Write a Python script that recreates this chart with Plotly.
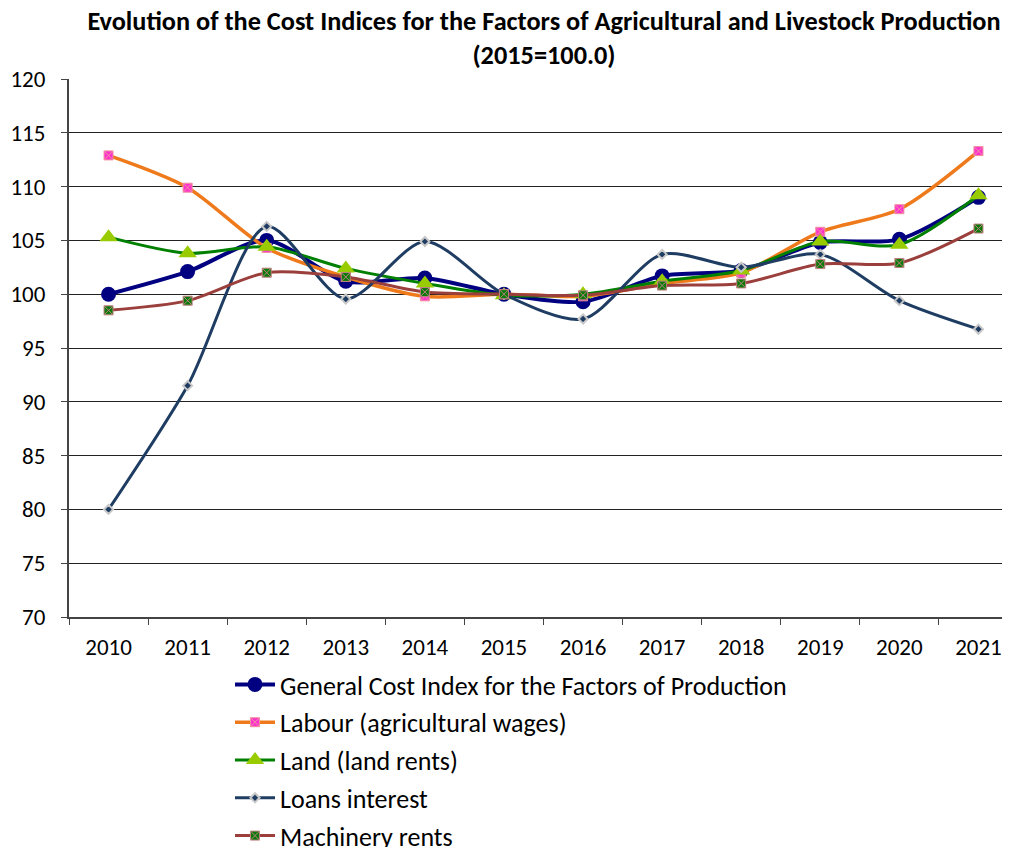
import plotly.graph_objects as go

years = ["2010", "2011", "2012", "2013", "2014", "2015", "2016", "2017", "2018", "2019", "2020", "2021"]
general = [100.0, 102.1, 105.0, 101.2, 101.5, 100.0, 99.3, 101.7, 102.2, 104.8, 105.1, 109.0]
labour = [112.9, 109.9, 104.3, 101.6, 99.8, 100.0, 99.8, 101.0, 102.0, 105.8, 107.9, 113.3]
land = [105.3, 103.8, 104.4, 102.4, 101.0, 99.9, 100.0, 101.2, 102.2, 104.9, 104.6, 109.2]
loans = [80.0, 91.5, 106.3, 99.55, 104.9, 100.0, 97.7, 103.7, 102.5, 103.7, 99.4, 96.75]
machinery = [98.5, 99.4, 102.0, 101.6, 100.2, 100.0, 99.9, 100.8, 101.0, 102.8, 102.9, 106.1]

names = [
    "General Cost Index for the Factors of Production",
    "Labour (agricultural wages)",
    "Land (land rents)",
    "Loans interest",
    "Machinery rents",
]

FONT = "Carlito, Lato, sans-serif"
W, H = 1010, 880

fig = go.Figure()
fig.add_trace(go.Scatter(
    x=years, y=general, name=names[0], mode="lines+markers",
    line=dict(color="#000080", width=4, shape="spline", smoothing=0.8),
    marker=dict(symbol="circle", size=15, color="#000080", line=dict(color="#000080", width=0)),
    legendgroup="a"))
fig.add_trace(go.Scatter(
    x=years, y=labour, name=names[1], mode="lines+markers",
    line=dict(color="#EE7A1C", width=3.5, shape="spline", smoothing=0.8),
    marker=dict(symbol="square-x", size=9, color="#FF33CC", line=dict(color="#F090A0", width=1)),
    legendgroup="b"))
fig.add_trace(go.Scatter(
    x=years, y=land, name=names[2], mode="lines+markers",
    line=dict(color="#008000", width=3, shape="spline", smoothing=0.8),
    marker=dict(symbol="triangle-up", size=16, color="#99CC00", line=dict(width=0)),
    legendgroup="c"))
fig.add_trace(go.Scatter(
    x=years, y=loans, name=names[3], mode="lines+markers",
    line=dict(color="#1F3D63", width=3, shape="spline", smoothing=0.8),
    marker=dict(symbol="diamond", size=7, color="#1F3D63", line=dict(color="#C8C8C8", width=2)),
    legendgroup="d"))
fig.add_trace(go.Scatter(
    x=years, y=machinery, name=names[4], mode="lines+markers",
    line=dict(color="#9B3F3C", width=3, shape="spline", smoothing=0.8),
    marker=dict(symbol="square-x", size=9, color="#0A7A0A", line=dict(color="#C08080", width=1)),
    legendgroup="e"))

fig.update_layout(
    width=W, height=H,
    paper_bgcolor="white", plot_bgcolor="white",
    margin=dict(l=61, r=0, t=71, b=H - 609, autoexpand=False),
    font=dict(family=FONT, size=23, color="black"),
    title=dict(
        text="<b>Evolution of the Cost Indices for the Factors of Agricultural and Livestock Production<br>(2015=100.0)</b>",
        x=536 / W, xanchor="center", y=1 - 22 / H, yanchor="top",
        font=dict(family=FONT, size=26.3, color="black")),
    showlegend=True,
    legend=dict(
        xref="container", yref="container",
        x=222 / W, xanchor="left", y=1 - 653 / H, yanchor="top",
        orientation="v", traceorder="grouped", tracegroupgap=1,
        font=dict(family=FONT, size=26, color="black"),
        bgcolor="rgba(0,0,0,0)", itemwidth=40),
    xaxis=dict(
        type="category", range=[-0.5, 11.5], automargin=False,
        tickson="boundaries", ticks="outside", ticklen=6, tickcolor="#444",
        showline=True, linecolor="#444", linewidth=2, showgrid=False,
        ticklabelstandoff=8,
        tickfont=dict(family=FONT, size=23)),
    yaxis=dict(
        range=[70, 120], dtick=5, tick0=70, automargin=False,
        ticks="outside", ticklen=6, tickcolor="#444",
        showline=True, linecolor="#444", linewidth=2,
        showgrid=True, gridcolor="#222", gridwidth=1, zeroline=False,
        ticklabelstandoff=11,
        tickfont=dict(family=FONT, size=23)),
)

fig.write_html("out.html")
